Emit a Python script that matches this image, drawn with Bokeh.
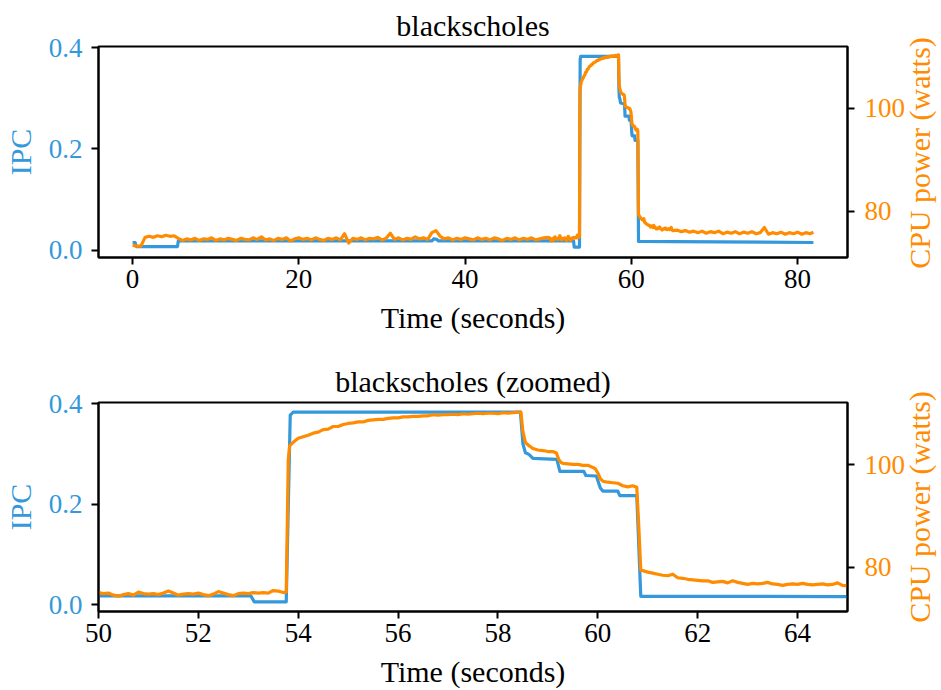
import numpy as np
from bokeh.plotting import figure
from bokeh.models import Range1d, LinearAxis, FixedTicker, PrintfTickFormatter, Div
from bokeh.layouts import column, row
from bokeh.embed import file_html
from bokeh.resources import INLINE

# ---------------- data ----------------
TITLE_TOP = "blackscholes"
TITLE_BOTTOM = "blackscholes (zoomed)"
X_LABEL = "Time (seconds)"
IPC_LABEL = "IPC"
POWER_LABEL = "CPU power (watts)"

# IPC (step-like trace)
IPC_T = [0.0, 0.3, 0.45, 5.4, 5.5, 36.0, 36.2, 36.6, 36.8, 53.05, 53.12, 53.76,
         53.84, 53.9, 58.45, 58.5, 58.55, 58.62, 58.7, 59.18, 59.24, 59.72, 59.76,
         59.97, 60.05, 60.1, 60.4, 60.44, 60.78, 60.86, 65.0, 81.9]
IPC_V = [0.015, 0.015, 0.007, 0.007, 0.018, 0.018, 0.022, 0.021, 0.018, 0.018, 0.006, 0.006,
         0.377, 0.383, 0.383, 0.32, 0.302, 0.299, 0.291, 0.289, 0.265, 0.265, 0.257,
         0.256, 0.232, 0.226, 0.226, 0.217, 0.217, 0.017, 0.0165, 0.015]

# CPU power, idle phase sampled every 0.5 s from 0 to 49.5 s
POWER_IDLE_START = 0.0
POWER_IDLE_STEP = 0.5
POWER_IDLE = [73.5, 73.3, 73.3, 75.0, 75.2, 75.0, 75.3, 75.1, 75.4, 75.2,
              75.3, 74.8, 74.4, 74.7, 74.5, 74.8, 74.4, 74.7, 74.6, 74.9,
              74.4, 74.7, 74.5, 74.8, 74.6, 74.4, 74.8, 74.6, 74.5, 74.9,
              74.6, 75.1, 74.5, 74.7, 74.4, 74.8, 74.6, 74.9, 74.3, 74.7,
              74.9, 74.6, 74.8, 74.5, 74.9, 74.6, 74.4, 74.8, 74.6, 74.9,
              74.5, 75.7, 73.9, 74.8, 74.6, 74.9, 74.5, 74.8, 74.7, 75.0,
              74.5, 74.8, 75.8, 74.6, 74.9, 74.5, 74.8, 74.6, 75.1, 74.7,
              74.9, 74.6, 75.9, 76.3, 75.2, 74.7, 74.9, 74.5, 74.8, 74.6,
              74.9, 74.7, 74.5, 74.9, 74.6, 74.8, 74.5, 74.9, 74.7, 74.4,
              74.8, 74.6, 74.9, 74.5, 74.8, 74.6, 74.9, 74.5, 74.7, 74.9]

# CPU power, active phase 50-65 s (time, watts)
POWER_ACTIVE = [
    (50.0, 75.0), (50.1, 74.8), (50.2, 74.9), (50.3, 74.5), (50.4, 74.3), (50.5, 74.6),
    (50.6, 74.8), (50.7, 74.5), (50.8, 75.1), (50.9, 74.8), (51.0, 74.7), (51.1, 74.8),
    (51.2, 74.6), (51.3, 74.9), (51.4, 75.3), (51.5, 74.9), (51.6, 74.5), (51.7, 74.7),
    (51.8, 74.8), (51.9, 74.7), (52.0, 74.9), (52.1, 74.6), (52.2, 74.4), (52.3, 74.7),
    (52.4, 75.2), (52.5, 74.9), (52.6, 74.6), (52.7, 74.4), (52.8, 74.8), (52.9, 74.9),
    (53.0, 74.8), (53.1, 75.0), (53.2, 74.9), (53.3, 75.0), (53.4, 74.9), (53.5, 75.4),
    (53.6, 75.3), (53.7, 75.0), (53.76, 75.1), (53.8, 101.0), (53.83, 103.8), (53.9, 104.4),
    (54.0, 105.2), (54.1, 105.5), (54.2, 105.8), (54.3, 106.2), (54.4, 106.4), (54.5, 106.9),
    (54.6, 107.0), (54.7, 107.5), (54.8, 107.5), (54.9, 107.9), (55.0, 108.1), (55.1, 108.2),
    (55.2, 108.4), (55.3, 108.4), (55.4, 108.7), (55.5, 108.8), (55.6, 108.9), (55.7, 108.9),
    (55.8, 109.1), (55.9, 109.2), (56.0, 109.2), (56.1, 109.4), (56.2, 109.4), (56.3, 109.5),
    (56.4, 109.5), (56.5, 109.6), (56.6, 109.6), (56.7, 109.8), (56.8, 109.7), (56.9, 109.8),
    (57.0, 109.8), (57.1, 109.9), (57.2, 109.8), (57.3, 110.0), (57.4, 109.9), (57.5, 110.0),
    (57.6, 110.1), (57.7, 110.0), (57.8, 110.1), (57.9, 110.1), (58.0, 110.0), (58.1, 110.2),
    (58.2, 110.1), (58.3, 110.2), (58.4, 110.3), (58.46, 110.3), (58.5, 106.5), (58.55, 104.4),
    (58.6, 103.9), (58.7, 103.2), (58.8, 102.9), (58.9, 102.8), (59.0, 102.6), (59.1, 102.6),
    (59.17, 102.3), (59.22, 101.0), (59.27, 100.4), (59.3, 100.3), (59.4, 100.2), (59.5, 100.1),
    (59.6, 100.1), (59.7, 99.9), (59.8, 99.9), (59.9, 99.5), (59.95, 99.2), (60.0, 98.4),
    (60.05, 97.3), (60.1, 96.8), (60.2, 96.6), (60.3, 96.5), (60.4, 96.4), (60.5, 95.9),
    (60.6, 95.7), (60.7, 95.9), (60.78, 95.6), (60.82, 88.0), (60.86, 79.4), (60.9, 79.3),
    (61.0, 79.0), (61.1, 78.8), (61.2, 78.6), (61.3, 78.4), (61.4, 78.3), (61.5, 78.6),
    (61.6, 77.9), (61.7, 77.8), (61.8, 77.6), (61.9, 77.5), (62.0, 77.4), (62.1, 77.3),
    (62.2, 77.3), (62.3, 77.0), (62.4, 77.1), (62.5, 77.2), (62.6, 76.9), (62.7, 77.3),
    (62.8, 77.0), (62.9, 76.8), (63.0, 76.6), (63.1, 76.8), (63.2, 76.7), (63.3, 76.8),
    (63.4, 77.0), (63.5, 76.7), (63.6, 76.6), (63.7, 76.4), (63.8, 76.6), (63.9, 76.7),
    (64.0, 76.6), (64.1, 76.8), (64.2, 76.6), (64.3, 76.5), (64.4, 76.6), (64.5, 76.7),
    (64.6, 76.5), (64.7, 76.6), (64.8, 76.9), (64.9, 76.4), (65.0, 76.3)]

# CPU power, tail phase sampled every 0.5 s from 65.5 to 81.5 s, then last sample
POWER_TAIL_START = 65.5
POWER_TAIL_STEP = 0.5
POWER_TAIL = [76.4, 76.1, 76.3, 76.0, 76.2, 75.9, 76.2, 75.8, 76.1, 75.9,
              76.2, 75.7, 76.0, 75.8, 76.1, 75.7, 76.0, 75.8, 76.1, 75.7,
              75.9, 76.9, 75.6, 75.9, 75.7, 76.0, 75.6, 75.9, 75.7, 76.0,
              75.6, 75.9, 75.7]
POWER_LAST = (81.9, 76.0)

TOP_XTICKS = [0, 20, 40, 60, 80]
BOTTOM_XTICKS = [50, 52, 54, 56, 58, 60, 62, 64]
IPC_TICKS = [0.0, 0.2, 0.4]
POWER_TICKS = [80, 100]

# assemble power series
t_idle = POWER_IDLE_START + POWER_IDLE_STEP * np.arange(len(POWER_IDLE))
t_tail = POWER_TAIL_START + POWER_TAIL_STEP * np.arange(len(POWER_TAIL))
pw_t = list(t_idle) + [a for a, b in POWER_ACTIVE] + list(t_tail) + [POWER_LAST[0]]
pw_v = list(POWER_IDLE) + [b for a, b in POWER_ACTIVE] + list(POWER_TAIL) + [POWER_LAST[1]]

BLUE = "#3498db"
ORANGE = "#ff8c00"
FONT = "Liberation Serif"
FS_TICK = "27px"
FS_LABEL = "30px"

MAIN_W = 910
SIDE_W = 941 - MAIN_W


def style_axis(ax, color, label=None):
    ax.axis_line_color = "black"
    ax.axis_line_width = 2
    ax.major_tick_line_color = "black"
    ax.major_tick_line_width = 2
    ax.major_tick_out = 7
    ax.major_tick_in = 0
    ax.minor_tick_line_color = None
    ax.major_label_text_font = FONT
    ax.major_label_text_font_size = FS_TICK
    ax.major_label_text_color = color
    if label is not None:
        ax.axis_label = label
        ax.axis_label_text_font = FONT
        ax.axis_label_text_font_size = FS_LABEL
        ax.axis_label_text_font_style = "normal"
        ax.axis_label_text_color = color


def make_fig(title, height, b_top, b_bottom, xr, ipc_r, pw_r, xticks):
    p = figure(width=MAIN_W, height=height, output_backend="svg", toolbar_location=None,
               x_range=Range1d(*xr), y_range=Range1d(*ipc_r),
               min_border_left=96, min_border_right=MAIN_W - 847,
               min_border_top=b_top, min_border_bottom=b_bottom)
    p.extra_y_ranges = {"pw": Range1d(*pw_r)}
    p.xgrid.visible = False
    p.ygrid.visible = False
    p.outline_line_color = "black"
    p.outline_line_width = 2
    p.outline_line_alpha = 1
    p.background_fill_color = "white"
    p.border_fill_color = "white"

    p.title.text = title
    p.title.align = "center"
    p.title.text_font = FONT
    p.title.text_font_size = FS_LABEL
    p.title.text_font_style = "normal"
    p.title.text_color = "black"

    xa = p.xaxis[0]
    style_axis(xa, "black", X_LABEL)
    xa.ticker = FixedTicker(ticks=xticks)
    xa.major_label_standoff = 5
    xa.axis_label_standoff = 10

    ya = p.yaxis[0]
    style_axis(ya, BLUE, IPC_LABEL)
    ya.ticker = FixedTicker(ticks=IPC_TICKS)
    ya.formatter = PrintfTickFormatter(format="%.1f")
    ya.major_label_standoff = 9
    ya.axis_label_standoff = 9

    ra = LinearAxis(y_range_name="pw")
    style_axis(ra, ORANGE)
    ra.ticker = FixedTicker(ticks=POWER_TICKS)
    ra.major_label_standoff = 10
    p.add_layout(ra, "right")

    p.line(IPC_T, IPC_V, line_color=BLUE, line_width=3.2, line_join="round")
    p.line(pw_t, pw_v, line_color=ORANGE, line_width=3.2, line_join="round", y_range_name="pw")
    return p


def make_side(height, cy):
    # rotated (bottom-to-top) title for the right-hand power axis
    cx = 10
    html = (f'<div style="position:absolute; left:{cx - 150}px; top:{cy - 15}px; '
            f'width:300px; height:30px; line-height:30px; text-align:center; '
            f'white-space:nowrap; font-family:\'{FONT}\'; font-size:{FS_LABEL}; '
            f'color:{ORANGE}; transform:rotate(-90deg); transform-origin:50% 50%;">'
            f'{POWER_LABEL}</div>')
    return Div(text=html, width=SIDE_W, height=height, margin=0,
               styles={"overflow": "visible", "position": "relative"})


p1 = make_fig(TITLE_TOP, 345, 46, 88, (-4.1, 86.0), (-0.0147, 0.4026), (71.1, 111.9), TOP_XTICKS)
p2 = make_fig(TITLE_BOTTOM, 345, 57, 78, (50.0, 65.0), (-0.0132, 0.402), (71.3, 112.2), BOTTOM_XTICKS)
s1 = make_side(345, 152.5)
s2 = make_side(345, 506.5 - 345)

layout = column(row(p1, s1, spacing=0), row(p2, s2, spacing=0), spacing=0)
open("out.html", "w").write(file_html(layout, INLINE))
